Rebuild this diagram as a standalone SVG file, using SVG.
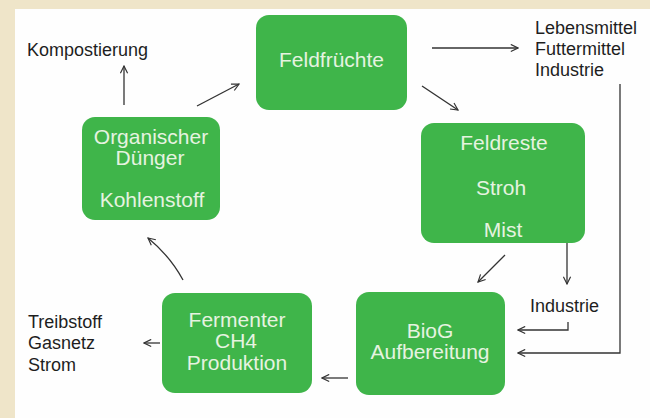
<svg xmlns="http://www.w3.org/2000/svg" width="650" height="418" viewBox="0 0 650 418">
<defs>
<style>
.node{fill:#3fb54a}
.nt{font-family:"Liberation Sans",Arial,sans-serif;font-size:21px;fill:#e6f3e0;text-anchor:middle}
.t{font-family:"Liberation Sans",Arial,sans-serif;font-size:18px;fill:#1e1e1e}
.c{fill:none;stroke:#333;stroke-width:1.3}
</style>
<marker id="ah" viewBox="0 0 10 10" refX="9" refY="5" markerWidth="9" markerHeight="9" markerUnits="userSpaceOnUse" orient="auto">
<path d="M1,1 L9,5 L1,9" fill="none" stroke="#333" stroke-width="1.3"/>
</marker>
</defs>
<rect x="0" y="0" width="650" height="418" fill="#efe5c9"/>
<rect x="15" y="9" width="635" height="409" fill="#fefefe"/>

<g id="feldfruechte">
<rect class="node" x="256" y="15" width="151" height="95" rx="13"/>
<text class="nt" x="331.5" y="67">Feldfrüchte</text>
</g>
<g id="organischer">
<rect class="node" x="82" y="117" width="138" height="103" rx="13"/>
<text class="nt" x="151" y="144">Organischer</text>
<text class="nt" x="150" y="165">Dünger</text>
<text class="nt" x="152" y="207">Kohlenstoff</text>
</g>
<g id="feldreste">
<rect class="node" x="421" y="123" width="164" height="120" rx="13"/>
<text class="nt" x="504" y="150">Feldreste</text>
<text class="nt" x="501" y="195">Stroh</text>
<text class="nt" x="503" y="237">Mist</text>
</g>
<g id="biog">
<rect class="node" x="356" y="292" width="149" height="103" rx="13"/>
<text class="nt" x="430" y="338">BioG</text>
<text class="nt" x="430" y="359">Aufbereitung</text>
</g>
<g id="fermenter">
<rect class="node" x="162" y="293" width="150" height="100" rx="13"/>
<text class="nt" x="237" y="327">Fermenter</text>
<text class="nt" x="236" y="348">CH4</text>
<text class="nt" x="237" y="370">Produktion</text>
</g>

<g id="labels">
<text class="t" x="27" y="56">Kompostierung</text>
<text class="t" x="535" y="34">Lebensmittel</text>
<text class="t" x="535" y="55">Futtermittel</text>
<text class="t" x="535" y="76">Industrie</text>
<text class="t" x="530" y="312">Industrie</text>
<text class="t" x="28" y="328">Treibstoff</text>
<text class="t" x="28" y="349">Gasnetz</text>
<text class="t" x="28" y="371">Strom</text>
</g>

<g id="connectors">
<line class="c" x1="124" y1="105" x2="124" y2="66" marker-end="url(#ah)"/>
<line class="c" x1="197" y1="106" x2="239" y2="84" marker-end="url(#ah)"/>
<line class="c" x1="432" y1="48" x2="518" y2="48" marker-end="url(#ah)"/>
<line class="c" x1="422" y1="86" x2="458" y2="110" marker-end="url(#ah)"/>
<polyline class="c" points="620,84 620,353 518,353" marker-end="url(#ah)"/>
<polyline class="c" points="568,322 568,330 518,330" marker-end="url(#ah)"/>
<line class="c" x1="567" y1="243" x2="567" y2="284" marker-end="url(#ah)"/>
<line class="c" x1="505" y1="255" x2="478" y2="282" marker-end="url(#ah)"/>
<line class="c" x1="348" y1="378" x2="322" y2="378" marker-end="url(#ah)"/>
<line class="c" x1="160" y1="343" x2="144" y2="343" marker-end="url(#ah)"/>
<path class="c" d="M183,280 Q170,256 148,238" marker-end="url(#ah)"/>
</g>
</svg>
